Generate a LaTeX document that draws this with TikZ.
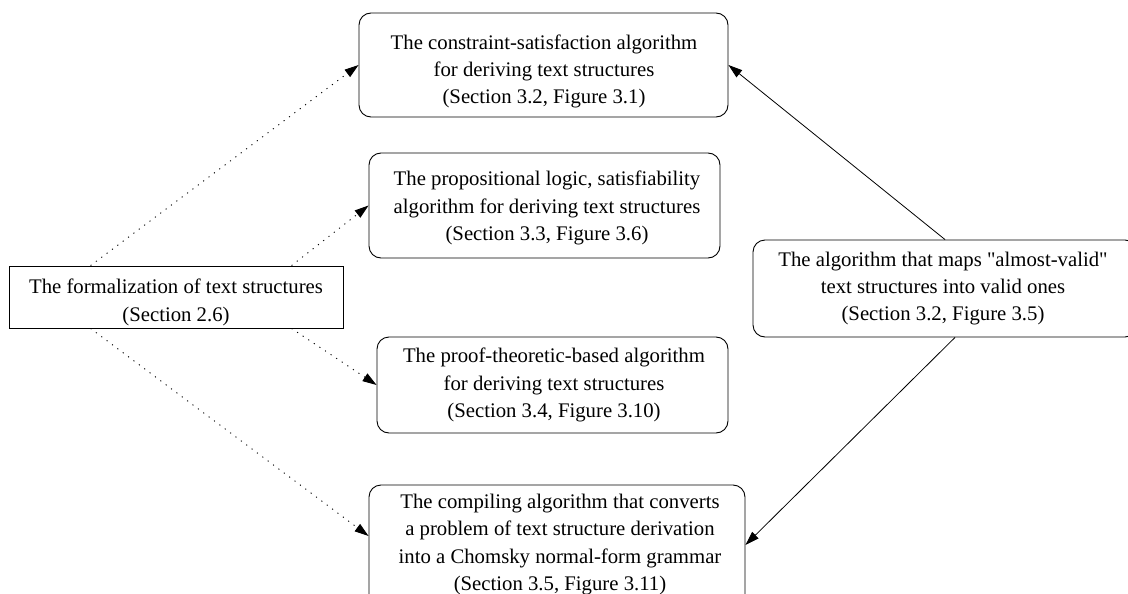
\documentclass[tikz,border=0pt]{standalone}
\usepackage{fontspec}
\setmainfont{Liberation Serif}[Ligatures=TeXOff]
\usetikzlibrary{arrows.meta}
\begin{document}
\begin{tikzpicture}[x=1pt,y=-1pt,
  every node/.style={inner sep=0pt},
  label/.style={font=\fontsize{20.75}{27.4}\selectfont, align=center},
  sharpbox/.style={draw=black, line width=0.9pt, rectangle},
  roundbox/.style={draw=black, line width=0.9pt, rectangle, rounded corners=12pt},
  dotarrow/.style={line width=0.9pt, dash pattern=on 1.1pt off 5.6pt, -{Triangle[length=14pt,width=9pt]}},
  solidarrow/.style={line width=0.8pt, -{Triangle[length=14pt,width=9pt]}}
]
\useasboundingbox (0,0) rectangle (1128,594);
\clip (0,0) rectangle (1128,594);

% boxes
\node[sharpbox, minimum width=334pt, minimum height=62pt] (L) at (176,297) {};
\node[roundbox, minimum width=369pt, minimum height=104pt] (A) at (543.5,65) {};
\node[roundbox, minimum width=351pt, minimum height=105pt] (B) at (544.5,205.5) {};
\node[roundbox, minimum width=351pt, minimum height=96pt] (C) at (552.5,385) {};
\node[roundbox, minimum width=376pt, minimum height=129pt] (D) at (557,549.5) {};
\node[roundbox, minimum width=384pt, minimum height=97pt] (R) at (945,288.5) {};

% texts
\node[label] (Lt) at ([yshift=-5.5pt]L.center)
  {The formalization of text structures\\(Section 2.6)};
\node[label] (At) at ([xshift=0.5pt,yshift=-6.5pt]A.center)
  {The constraint-satisfaction algorithm\\for deriving text structures\\(Section 3.2, Figure 3.1)};
\node[label] (Bt) at ([xshift=2.5pt,yshift=-2.5pt]B.center)
  {The propositional logic, satisfiability\\algorithm for deriving text structures\\(Section 3.3, Figure 3.6)};
\node[label] (Ct) at ([xshift=1.5pt]C.center)
  {The proof-theoretic-based algorithm\\for deriving text structures\\(Section 3.4, Figure 3.10)};
\node[label] (Dt) at ([xshift=3pt,yshift=5pt]D.center)
  {The compiling algorithm that converts\\a problem of text structure derivation\\into a Chomsky normal-form grammar\\(Section 3.5, Figure 3.11)};
\node[label] (Rt) at ([xshift=-2pt]R.center)
  {The algorithm that maps "almost-valid"\\text structures into valid ones\\(Section 3.2, Figure 3.5)};

% connector ends
\coordinate (ltl) at ([xshift=82pt]L.north west);
\coordinate (ltr) at ([xshift=283pt]L.north west);
\coordinate (lbl) at ([xshift=82pt]L.south west);
\coordinate (lbr) at ([xshift=283pt]L.south west);
\coordinate (din) at ([yshift=13.5pt]D.west);
\coordinate (rout) at ([xshift=10pt]R.south);
\coordinate (dend) at ([yshift=4.5pt]D.east);

\draw[dotarrow] (ltl) -- (A.west);
\draw[dotarrow] (ltr) -- (B.west);
\draw[dotarrow] (lbr) -- (C.west);
\draw[dotarrow] (lbl) -- (din);
\draw[solidarrow] (R.north) -- (A.east);
\draw[solidarrow] (rout) -- (dend);
\end{tikzpicture}
\end{document}
